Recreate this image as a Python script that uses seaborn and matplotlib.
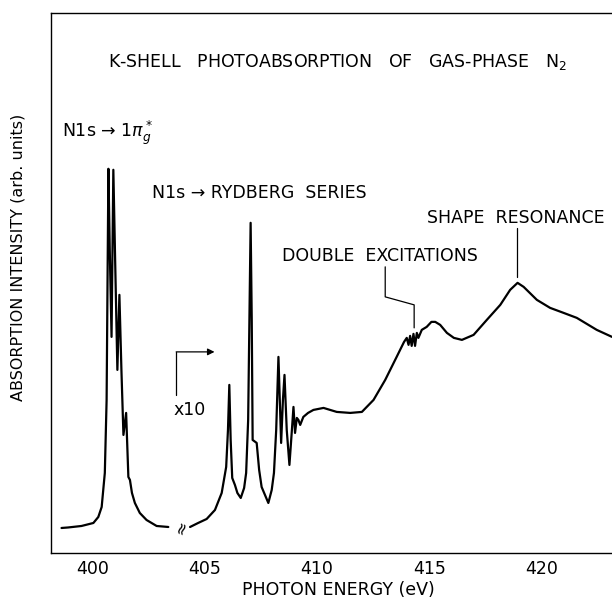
import matplotlib
matplotlib.use("Agg")
import matplotlib.pyplot as plt
import seaborn as sns
import pandas as pd

# N1s -> 1pi_g* region (true scale)
energy_pi = [398.61, 398.9, 399.5, 400.03, 400.25, 400.40, 400.54, 400.62, 400.70, 400.76,
             400.84, 400.92, 401.00, 401.10, 401.19, 401.28, 401.37, 401.49, 401.59, 401.66,
             401.75, 401.88, 402.10, 402.40, 402.85, 403.37]
intens_pi = [0.25, 0.255, 0.27, 0.30, 0.36, 0.46, 0.80, 1.53, 3.84, 3.03,
             2.16, 3.83, 2.93, 1.83, 2.58, 1.83, 1.18, 1.40, 0.76, 0.73,
             0.60, 0.50, 0.40, 0.33, 0.27, 0.26]

# Rydberg series + continuum (x10)
energy_ryd = [404.34, 404.70, 405.08, 405.45, 405.75, 405.95, 406.03, 406.09, 406.15, 406.22,
              406.34, 406.45, 406.60, 406.75, 406.84, 406.93, 406.98, 407.04, 407.09, 407.13,
              407.31, 407.42, 407.53, 407.83, 407.98, 408.08, 408.18, 408.28, 408.40, 408.48,
              408.55, 408.65, 408.77, 408.88, 408.95, 409.02, 409.10, 409.17, 409.25, 409.39,
              409.60, 409.84, 410.29, 410.88, 411.48, 412.00, 412.52, 413.04, 413.55, 413.88,
              414.00, 414.08, 414.15, 414.22, 414.30, 414.37, 414.45, 414.52, 414.67, 414.89,
              415.10, 415.27, 415.49, 415.79, 416.10, 416.46, 416.98, 417.57, 418.17, 418.61,
              418.94, 419.21, 419.80, 420.39, 420.99, 421.58, 422.47, 423.15]
intens_ryd = [0.26, 0.30, 0.34, 0.43, 0.60, 0.86, 1.23, 1.68, 1.13, 0.75,
              0.68, 0.60, 0.55, 0.65, 0.80, 1.33, 2.23, 3.30, 2.33, 1.13,
              1.10, 0.83, 0.66, 0.50, 0.63, 0.80, 1.23, 1.96, 1.10, 1.53,
              1.78, 1.23, 0.88, 1.23, 1.46, 1.20, 1.35, 1.33, 1.28, 1.36,
              1.40, 1.43, 1.45, 1.41, 1.40, 1.41, 1.53, 1.73, 1.96, 2.11,
              2.15, 2.08, 2.17, 2.07, 2.19, 2.07, 2.20, 2.15, 2.23, 2.26,
              2.31, 2.31, 2.28, 2.20, 2.15, 2.13, 2.18, 2.33, 2.48, 2.63,
              2.70, 2.66, 2.53, 2.45, 2.40, 2.35, 2.23, 2.16]

xticks = [400, 405, 410, 415, 420]

df_pi = pd.DataFrame({"energy": energy_pi, "intensity": intens_pi})
df_ryd = pd.DataFrame({"energy": energy_ryd, "intensity": intens_ryd})

sns.set_style("white", {"text.color": "black", "axes.labelcolor": "black",
                        "xtick.color": "black", "axes.edgecolor": "black"})
plt.rcParams['font.family'] = ['DejaVu Sans']

fig = plt.figure(figsize=(6.12, 6.02), dpi=100)
ax = fig.add_axes([0.0833, 0.0814, 0.9167, 0.8975])

sns.lineplot(data=df_pi, x="energy", y="intensity", color="black", lw=1.6, ax=ax)
sns.lineplot(data=df_ryd, x="energy", y="intensity", color="black", lw=1.6, ax=ax)

ax.set_xlim(398.14, 423.15)
ax.set_ylim(0, 5.40)
ax.set_xticks(xticks)
ax.set_yticks([])
ax.tick_params(axis='x', direction='in', length=10, width=1, labelsize=12.5, pad=5)
for side in ['left', 'bottom', 'top']:
    ax.spines[side].set_linewidth(1)
ax.spines['right'].set_visible(False)

ax.set_xlabel("PHOTON ENERGY (eV)", fontsize=12.5)
ax.xaxis.set_label_coords(0.513, -0.052)
ax.set_ylabel("ABSORPTION INTENSITY (arb. units)", fontsize=11.5)
ax.yaxis.set_label_coords(-0.046, 0.548)

# texts
ax.text(400.69, 4.91, "K-SHELL   PHOTOABSORPTION   OF   GAS-PHASE   N$_2$", fontsize=12.5, va='center', ha='left')
ax.text(398.62, 4.20, "N1s \u2192 1$\\pi_g^*$", fontsize=12.5, va='center', ha='left')
ax.text(402.63, 3.60, "N1s \u2192 RYDBERG  SERIES", fontsize=12.5, va='center', ha='left')
ax.text(408.44, 2.965, "DOUBLE  EXCITATIONS", fontsize=12.5, va='center', ha='left')
ax.text(414.9, 3.35, "SHAPE  RESONANCE", fontsize=12.5, va='center', ha='left')

# leader lines
ax.plot([413.04, 413.04, 414.33, 414.33], [2.86, 2.56, 2.48, 2.25], color='black', lw=0.9)
ax.plot([418.91, 418.91], [3.25, 2.76], color='black', lw=0.9)

# x10 marker
ax.annotate("", xy=(405.43, 2.01), xytext=(403.72, 2.01),
            arrowprops=dict(arrowstyle='-|>', color='black', lw=0.9, mutation_scale=10,
                            shrinkA=0, shrinkB=0))
ax.plot([403.72, 403.72], [1.58, 2.01], color='black', lw=0.9)
ax.text(403.58, 1.425, "x10", fontsize=12.5, va='center', ha='left')

# axis break mark
ax.text(403.96, 0.25, "\u2248", fontsize=12, rotation=70, va='center', ha='center')

fig.savefig("out.png", dpi=100)
